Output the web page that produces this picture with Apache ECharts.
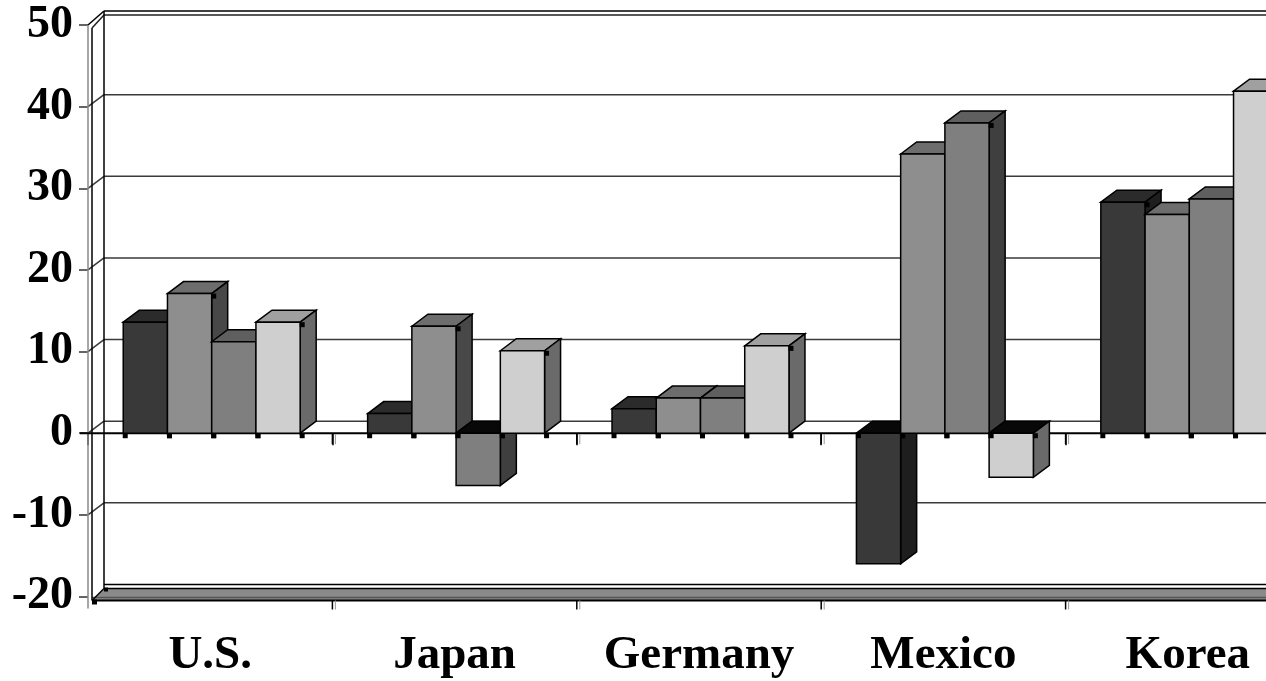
<!DOCTYPE html>
<html>
<head>
<meta charset="utf-8">
<script src="https://cdn.jsdelivr.net/npm/echarts@6/dist/echarts.min.js"></script>
<style>
  html, body { margin: 0; padding: 0; background: #ffffff; }
  #chart { width: 1266px; height: 681px; }
</style>
</head>
<body>
<div id="chart"></div>
<script>
// Growth by country, four series per country
const categories = ['U.S.', 'Japan', 'Germany', 'Mexico', 'Korea'];
const series1 = [13.6, 2.4, 3.0, -16.0, 28.3];
const series2 = [17.1, 13.1, 4.3, 34.2, 26.8];
const series3 = [11.2, -6.4, 4.3, 38.0, 28.7];
const series4 = [13.6, 10.1, 10.7, -5.4, 41.9];
const yTicks = [-20, -10, 0, 10, 20, 30, 40, 50];

// depth of the pseudo-3D box (pixels)
const DX = 16, DY = 12;
const FONT = "'Liberation Serif', 'Times New Roman', serif";

const seriesStyles = [
  { front: '#393939', top: '#2b2b2b', side: '#1e1e1e' },
  { front: '#8e8e8e', top: '#6d6d6d', side: '#484848' },
  { front: '#7f7f7f', top: '#5f5f5f', side: '#3f3f3f' },
  { front: '#cfcfcf', top: '#a0a0a0', side: '#6a6a6a' }
];

function line(xa, ya, xb, yb, color, w) {
  return { type: 'line', shape: { x1: xa, y1: ya, x2: xb, y2: yb },
           style: { stroke: color, lineWidth: w } };
}

// back wall, side wall, floor and zero plane
function renderWalls(params, api) {
  const cs = params.coordSys;
  const x0 = cs.x, x1 = cs.x + cs.width;
  const yF = v => api.coord([0, v])[1];
  const yMin = yTicks[0], yMax = yTicks[yTicks.length - 1];
  const band = api.size([1, 0])[0];
  const c = [];

  // floor slab
  const fb = yF(yMin) - DY, ff = yF(yMin);
  c.push({ type: 'polygon', shape: { points: [[x0 + 4, ff + 4], [x0 + DX, fb + 4], [x1 + DX, fb + 4], [x1 + DX, ff + 4]] },
           style: { fill: '#8a8a8a' } });
  c.push(line(x0 + DX, fb, x1 + DX, fb, '#000', 1.5));
  c.push(line(x0 + DX, fb + 4, x1 + DX, fb + 4, '#000', 1.5));
  c.push(line(x0 + 4, ff + 1, x1 + DX, ff + 1, '#555', 1.5));
  c.push(line(x0 + 4, ff + 4, x1 + DX, ff + 4, '#000', 2));
  c.push(line(x0 + 4, ff + 4, x0 + DX, fb + 4, '#000', 1.5));

  // back wall grid lines and their traces on the side wall
  yTicks.forEach(v => {
    if (v === yMin) return;
    const y = yF(v);
    if (v === yMax) {
      c.push(line(x0 + DX, y - DY - 2, x1 + DX, y - DY - 2, '#000', 1.5));
      c.push(line(x0 + DX, y - DY + 2, x1 + DX, y - DY + 2, '#222', 1.5));
      c.push(line(x0, y, x0 + DX, y - DY - 2, '#000', 1.5));
      c.push(line(x0 + 4, y + 3, x0 + DX, y - DY + 2, '#222', 1.5));
    } else {
      c.push(line(x0 + DX, y - DY, x1 + DX, y - DY, '#3a3a3a', 1.5));
      c.push(line(x0, y, x0 + DX, y - DY, '#3a3a3a', 1.5));
    }
  });

  // side wall verticals
  c.push(line(x0, yF(yMax), x0, ff + 12, '#8a8a8a', 1.5));
  c.push(line(x0 + 4, yF(yMax) + 3, x0 + 4, ff + 4, '#000', 1.5));
  c.push(line(x0 + DX, yF(yMax) - DY - 2, x0 + DX, fb + 4, '#000', 1.5));
  c.push({ type: 'rect', shape: { x: x0 + 4, y: ff + 3, width: 5, height: 5 }, style: { fill: '#000' } });
  c.push({ type: 'rect', shape: { x: x0 + DX, y: fb + 3, width: 4, height: 4 }, style: { fill: '#000' } });

  // zero plane front edge, separators there and below the floor
  const y0 = yF(0);
  c.push(line(x0 - 8, y0, x1 + DX, y0, '#000', 2));
  for (let i = 1; i < categories.length; i++) {
    const x = x0 + i * band;
    c.push(line(x, y0, x, y0 + 11, '#000', 1.5));
    c.push(line(x + 3, y0 + 1, x + 3, y0 + 11, '#999', 1));
    c.push(line(x, ff + 4, x, ff + 13, '#000', 1.5));
    c.push(line(x + 3, ff + 4, x + 3, ff + 13, '#999', 1));
  }
  return { type: 'group', children: c };
}

function makeBarRenderer(k) {
  const st = seriesStyles[k];
  return function (params, api) {
    const idx = api.value(0), v = api.value(1);
    const band = api.size([1, 0])[0];
    const bw = band * 0.181;
    const cx = api.coord([idx, 0])[0];
    const left = cx + (k - 2) * bw + 1.5;
    const right = left + bw;
    const yB = api.coord([idx, 0])[1];
    const yV = api.coord([idx, v])[1];
    const edge = { stroke: '#000', lineWidth: 1.5, lineJoin: 'miter' };
    const c = [];
    if (v >= 0) {
      c.push({ type: 'polygon', shape: { points: [[left, yV], [left + DX, yV - DY], [right + DX, yV - DY], [right, yV]] },
               style: Object.assign({ fill: st.top }, edge) });
      c.push({ type: 'polygon', shape: { points: [[right, yV], [right + DX, yV - DY], [right + DX, yB - DY], [right, yB]] },
               style: Object.assign({ fill: st.side }, edge) });
      c.push({ type: 'rect', shape: { x: left, y: yV, width: bw, height: yB - yV },
               style: Object.assign({ fill: st.front }, edge) });
      c.push({ type: 'rect', shape: { x: right - 0.5, y: yV, width: 5, height: 5 }, style: { fill: '#000' } });
    } else {
      c.push({ type: 'polygon', shape: { points: [[left, yB], [left + DX, yB - DY], [right + DX, yB - DY], [right, yB]] },
               style: Object.assign({ fill: '#080808' }, edge) });
      c.push({ type: 'polygon', shape: { points: [[right, yB], [right + DX, yB - DY], [right + DX, yV - DY], [right, yV]] },
               style: Object.assign({ fill: st.side }, edge) });
      c.push({ type: 'rect', shape: { x: left, y: yB, width: bw, height: yV - yB },
               style: Object.assign({ fill: st.front }, edge) });
    }
    c.push({ type: 'rect', shape: { x: left - 0.5, y: yB, width: 5, height: 5 }, style: { fill: '#000' } });
    c.push({ type: 'rect', shape: { x: right - 0.5, y: yB, width: 5, height: 5 }, style: { fill: '#000' } });
    return { type: 'group', children: c };
  };
}

const allSeries = [series1, series2, series3, series4];
const chart = echarts.init(document.getElementById('chart'), null, { renderer: 'canvas' });

chart.setOption({
  animation: false,
  backgroundColor: '#ffffff',
  // the plot runs past the right edge of the canvas
  grid: { left: 88, width: 1222, top: 25, bottom: 84.5, containLabel: false, outerBoundsMode: 'none' },
  xAxis: {
    type: 'category',
    data: categories,
    axisLine: { show: false },
    axisTick: { show: true, length: 12, lineStyle: { color: '#000', width: 1.5 } },
    axisLabel: { interval: 0, margin: 36, color: '#000', fontSize: 47, fontWeight: 'bold', fontFamily: FONT },
    splitLine: { show: false }
  },
  yAxis: {
    type: 'value',
    min: -20, max: 50, interval: 10,
    axisLine: { show: false },
    axisTick: { show: true, length: 9, lineStyle: { color: '#333', width: 1.5 } },
    axisLabel: { margin: 15, color: '#000', fontSize: 46, fontWeight: 'bold', fontFamily: FONT,
                 formatter: v => String(v) },
    splitLine: { show: false }
  },
  series: [
    { type: 'custom', name: 'walls', z: 1, silent: true, renderItem: renderWalls, data: [[0, 0]] }
  ].concat(allSeries.map((vals, k) => ({
    type: 'custom',
    name: 'Series ' + (k + 1),
    z: 2,
    renderItem: makeBarRenderer(k),
    encode: { x: 0, y: 1 },
    data: vals.map((v, i) => [i, v])
  })))
});
</script>
</body>
</html>
